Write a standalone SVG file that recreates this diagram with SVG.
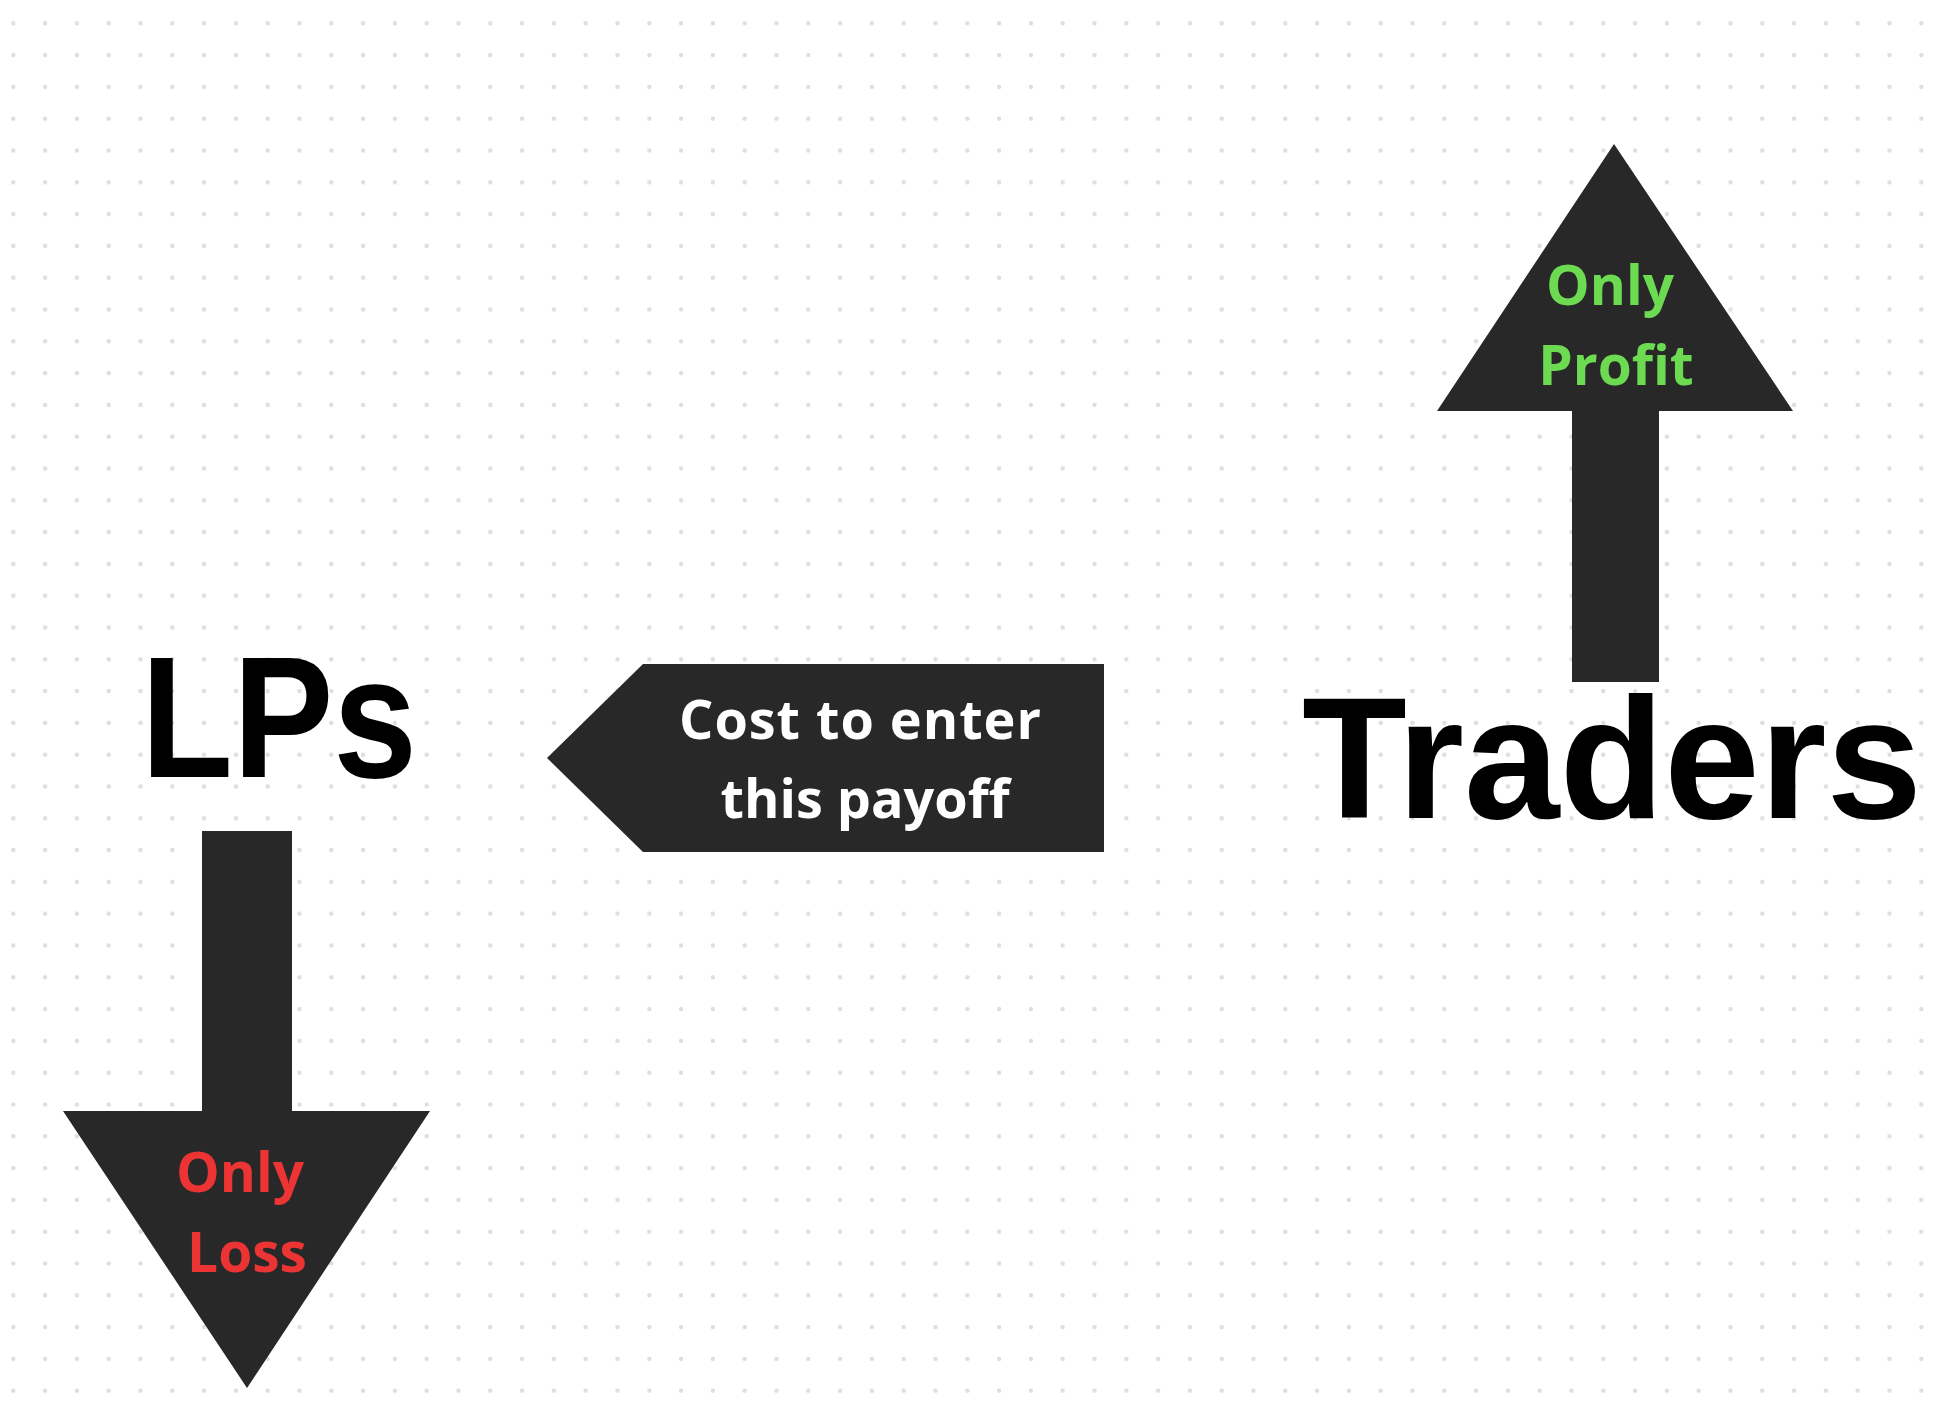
<svg xmlns="http://www.w3.org/2000/svg" width="1938" height="1401" viewBox="0 0 1938 1401">
  <defs>
    <pattern id="dots" patternUnits="userSpaceOnUse" x="-2.6" y="7.4" width="31.8" height="31.8">
      <circle cx="15.9" cy="15.9" r="2.2" fill="#dedede"/>
    </pattern>
    <style>
      .shape { fill: #282828; }
      .big { font-family: "Liberation Sans", Arial, sans-serif; font-weight: 700; fill: #000000; }
      .lbl { font-family: "Open Sans", "Noto Sans", sans-serif; font-weight: 700; text-anchor: middle; }
      .green { fill: #6ddb52; }
      .red { fill: #ec3434; }
      .white { fill: #ffffff; }
    </style>
  </defs>
  <rect x="0" y="0" width="1938" height="1401" fill="#ffffff"/>
  <rect x="0" y="0" width="1938" height="1401" fill="url(#dots)"/>

  <g id="connectors"></g>

  <g id="traders-arrow">
    <polygon class="shape" points="1614,144 1793,411 1659,411 1659,682 1572,682 1572,411 1437,411"/>
    <text class="lbl green" x="1610" y="305" font-size="55">Only</text>
    <text class="lbl green" x="1616" y="385" font-size="55">Profit</text>
  </g>

  <g id="traders">
    <text class="big" x="1302" y="818" font-size="172" textLength="620" lengthAdjust="spacingAndGlyphs">Traders</text>
  </g>

  <g id="lps">
    <text class="big" x="141" y="777" font-size="172" textLength="276" lengthAdjust="spacingAndGlyphs">LPs</text>
  </g>

  <g id="cost-arrow">
    <polygon class="shape" points="547,758 643,664 1104,664 1104,852 643,852"/>
    <text class="lbl white" x="860" y="739" font-size="54" textLength="362">Cost to enter</text>
    <text class="lbl white" x="865" y="818" font-size="54">this payoff</text>
  </g>

  <g id="lps-arrow">
    <polygon class="shape" points="202,831 292,831 292,1111 430,1111 247,1388 63,1111 202,1111"/>
    <text class="lbl red" x="240" y="1192" font-size="55">Only</text>
    <text class="lbl red" x="247" y="1272" font-size="55">Loss</text>
  </g>
</svg>
